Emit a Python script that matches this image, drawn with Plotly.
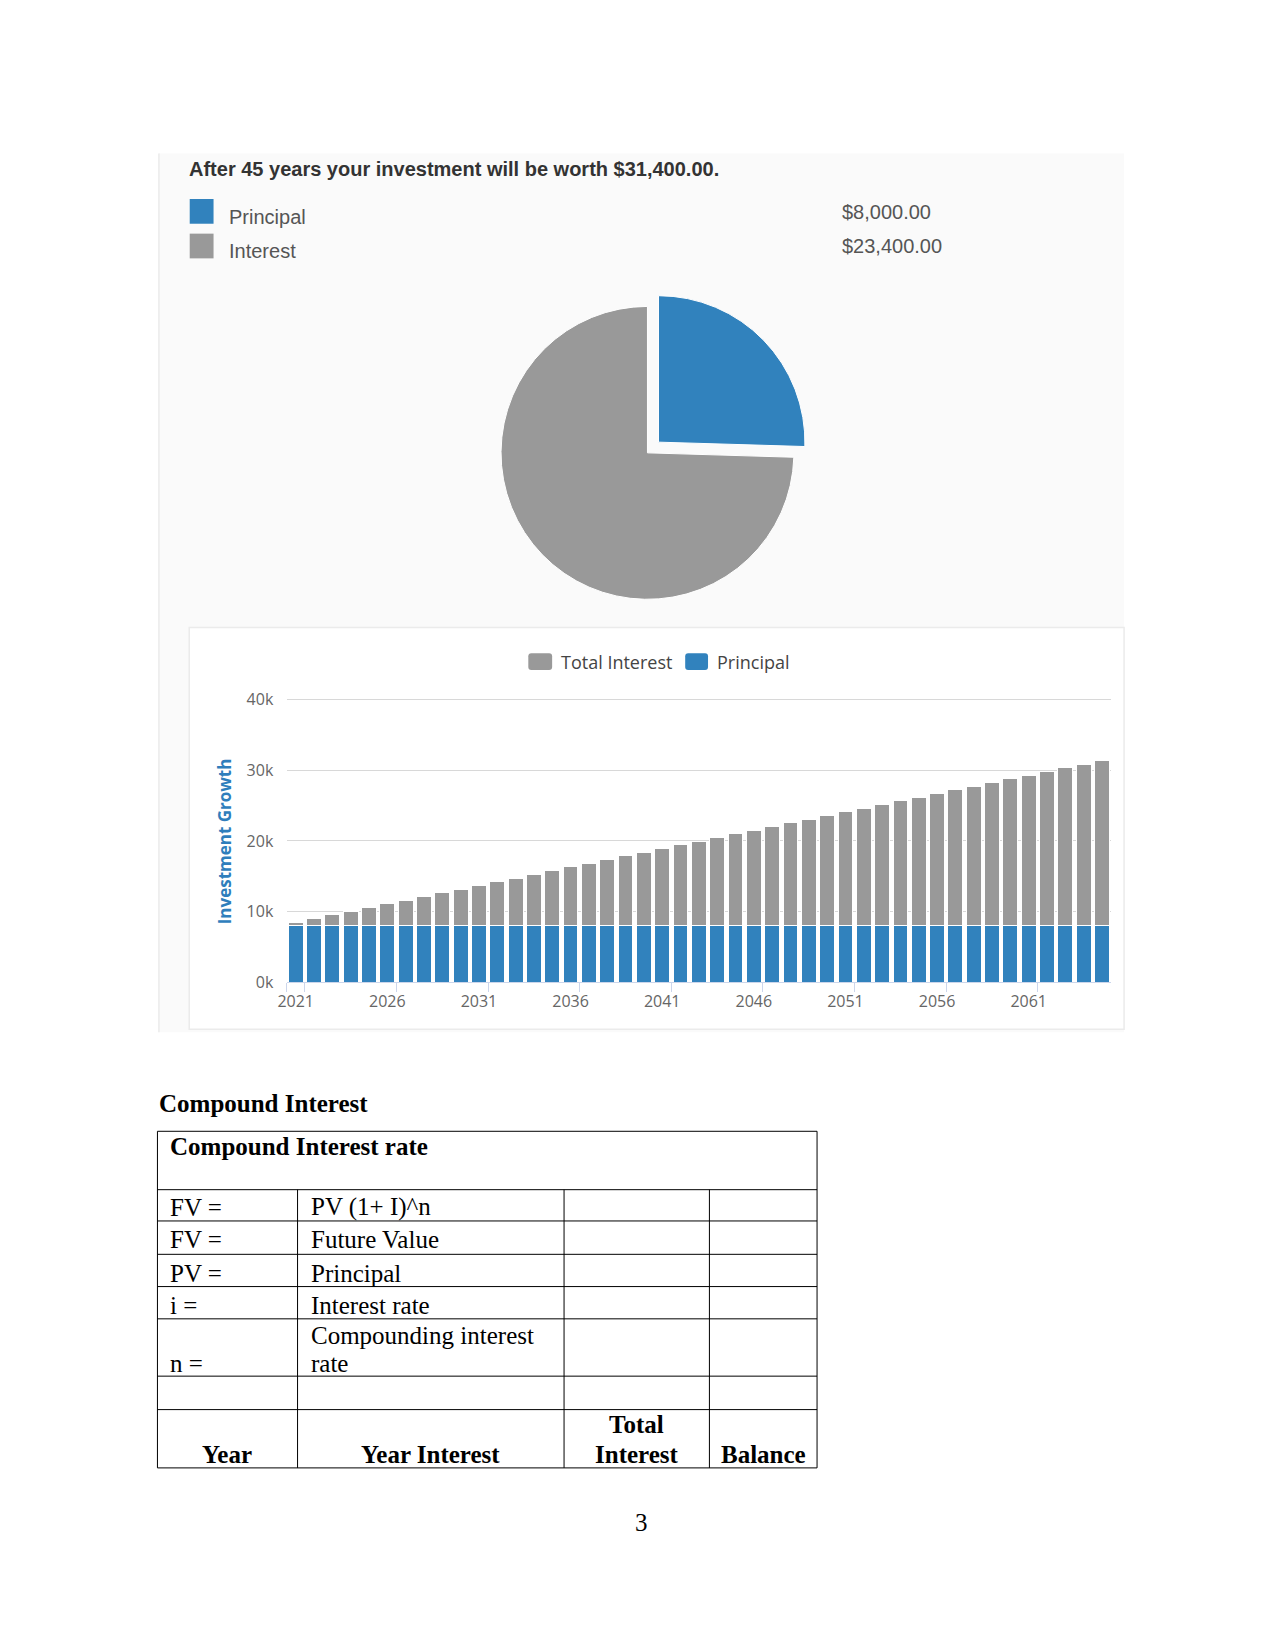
import plotly.graph_objects as go

W, H = 1275, 1651


def X(px):
    return px / W


def Y(py):
    return 1 - py / H


# ---------------- data ----------------
years = [2021, 2022, 2023, 2024, 2025, 2026, 2027, 2028, 2029, 2030,
         2031, 2032, 2033, 2034, 2035, 2036, 2037, 2038, 2039, 2040,
         2041, 2042, 2043, 2044, 2045, 2046, 2047, 2048, 2049, 2050,
         2051, 2052, 2053, 2054, 2055, 2056, 2057, 2058, 2059, 2060,
         2061, 2062, 2063, 2064, 2065]
principal = [8000, 8000, 8000, 8000, 8000, 8000, 8000, 8000, 8000, 8000,
             8000, 8000, 8000, 8000, 8000, 8000, 8000, 8000, 8000, 8000,
             8000, 8000, 8000, 8000, 8000, 8000, 8000, 8000, 8000, 8000,
             8000, 8000, 8000, 8000, 8000, 8000, 8000, 8000, 8000, 8000,
             8000, 8000, 8000, 8000, 8000]
total_interest = [520, 1040, 1560, 2080, 2600, 3120, 3640, 4160, 4680, 5200,
                  5720, 6240, 6760, 7280, 7800, 8320, 8840, 9360, 9880, 10400,
                  10920, 11440, 11960, 12480, 13000, 13520, 14040, 14560, 15080, 15600,
                  16120, 16640, 17160, 17680, 18200, 18720, 19240, 19760, 20280, 20800,
                  21320, 21840, 22360, 22880, 23400]
pie_labels = ["Principal", "Interest"]
pie_values = [8000, 23400]
pie_value_text = ["$8,000.00", "$23,400.00"]
y_tick_vals = [0, 10000, 20000, 30000, 40000]
y_tick_text = ["0k", "10k", "20k", "30k", "40k"]
x_tick_vals = [2021, 2026, 2031, 2036, 2041, 2046, 2051, 2056, 2061]
x_tick_text = ["2021", "2026", "2031", "2036", "2041", "2046", "2051", "2056", "2061"]
x_boundary_ticks = [2020.5, 2021.5, 2026.5, 2031.5, 2036.5, 2041.5, 2046.5, 2051.5, 2056.5, 2061.5]

headline = "After 45 years your investment will be worth $31,400.00."

table_rows = [
    ["FV =", "PV (1+ I)^n"],
    ["FV =", "Future Value"],
    ["PV =", "Principal"],
    ["i =", "Interest rate"],
]

BLUE = "#3182bd"
GRAY = "#999999"
CHART_FONT = "Open Sans"
SANS = "Liberation Sans"
SERIF = "Liberation Serif"

fig = go.Figure()

fig.add_trace(go.Bar(
    x=years, y=principal, name="Principal",
    marker=dict(color=BLUE, line=dict(color="white", width=1)),
    showlegend=False, xaxis="x", yaxis="y"))
fig.add_trace(go.Bar(
    x=years, y=total_interest, name="Total Interest",
    marker=dict(color=GRAY, line=dict(color="white", width=1)),
    showlegend=False, xaxis="x", yaxis="y"))

fig.add_trace(go.Pie(
    labels=pie_labels, values=pie_values, sort=False,
    direction="clockwise", rotation=0, pull=[0.105, 0],
    marker=dict(colors=[BLUE, GRAY], line=dict(color="white", width=1)),
    textinfo="none", showlegend=False,
    domain=dict(x=[X(479.5), X(806.5)], y=[Y(615), Y(288)])))

shapes = []
# chart image background
shapes.append(dict(type="rect", xref="paper", yref="paper", layer="below",
                   x0=X(151), x1=X(1123), y0=Y(1037), y1=Y(149),
                   fillcolor="#fafafa", line=dict(width=0)))
shapes.append(dict(type="line", xref="paper", yref="paper", layer="below",
                   x0=X(151), x1=X(151), y0=Y(1037), y1=Y(149),
                   line=dict(color="#e2e2e2", width=1)))
# bar chart box
shapes.append(dict(type="rect", xref="paper", yref="paper", layer="below",
                   x0=X(181.5), x1=X(1123), y0=Y(1034), y1=Y(628),
                   fillcolor="#ffffff", line=dict(color="#ebebeb", width=1.5)))
# top legend squares
shapes.append(dict(type="rect", xref="paper", yref="paper",
                   x0=X(182), x1=X(206), y0=Y(220), y1=Y(195),
                   fillcolor=BLUE, line=dict(width=0)))
shapes.append(dict(type="rect", xref="paper", yref="paper",
                   x0=X(182), x1=X(206), y0=Y(255), y1=Y(230),
                   fillcolor=GRAY, line=dict(width=0)))


def rrect(x0, y0, x1, y1, r):
    return (f"M {X(x0 + r)} {Y(y0)} L {X(x1 - r)} {Y(y0)} Q {X(x1)} {Y(y0)} {X(x1)} {Y(y0 + r)} "
            f"L {X(x1)} {Y(y1 - r)} Q {X(x1)} {Y(y1)} {X(x1 - r)} {Y(y1)} "
            f"L {X(x0 + r)} {Y(y1)} Q {X(x0)} {Y(y1)} {X(x0)} {Y(y1 - r)} "
            f"L {X(x0)} {Y(y0 + r)} Q {X(x0)} {Y(y0)} {X(x0 + r)} {Y(y0)} Z")


shapes.append(dict(type="path", xref="paper", yref="paper", path=rrect(523, 654, 547, 671, 3),
                   fillcolor=GRAY, line=dict(width=0)))
shapes.append(dict(type="path", xref="paper", yref="paper", path=rrect(681, 654, 704, 671, 3),
                   fillcolor=BLUE, line=dict(width=0)))

# table lines
col_x = [149.5, 290.6, 559.0, 705.4, 813.8]
row_y = [1137.0, 1196.0, 1227.6, 1261.3, 1293.9, 1326.5, 1384.4, 1418.2, 1477.1]
for yy in row_y:
    shapes.append(dict(type="line", xref="paper", yref="paper",
                       x0=X(col_x[0]), x1=X(col_x[-1]), y0=Y(yy), y1=Y(yy),
                       line=dict(color="black", width=1)))
for i, xx in enumerate(col_x):
    top = row_y[0] if i in (0, len(col_x) - 1) else row_y[1]
    shapes.append(dict(type="line", xref="paper", yref="paper",
                       x0=X(xx), x1=X(xx), y0=Y(row_y[-1]), y1=Y(top),
                       line=dict(color="black", width=1)))

ann = []


def text(x, y, s, size, family, color="black", xanchor="left", angle=0, weight=None):
    f = dict(size=size, family=family, color=color)
    if weight:
        f["weight"] = weight
    ann.append(dict(xref="paper", yref="paper", x=X(x), y=Y(y), text=s,
                    showarrow=False, xanchor=xanchor, yanchor="middle",
                    textangle=angle, borderpad=0, font=f))


# chart header
text(180, 165, f"<b>{headline}</b>", 20, SANS, "#333333")
text(221, 213, pie_labels[0], 20, SANS, "#555555")
text(221, 248, pie_labels[1], 20, SANS, "#555555")
text(838, 208, pie_value_text[0], 20, SANS, "#555555")
text(838, 243, pie_value_text[1], 20, SANS, "#555555")
# bar legend
text(555, 663, "Total Interest", 18, CHART_FONT, "#444444")
text(712, 663, "Principal", 18, CHART_FONT, "#444444")
# y-axis title
text(216.5, 844, "Investment Growth", 17, CHART_FONT, "#2f7ebc", xanchor="center", angle=-90, weight="bold")

# document text
text(150.5, 1108.6, "<b>Compound Interest</b>", 25, SERIF)
text(161, 1152.8, "<b>Compound Interest rate</b>", 25, SERIF)
row_text_y = [1213.9, 1246.5, 1280.2, 1312.8]
for (a, b), yy in zip(table_rows, row_text_y):
    text(161, yy, a, 25, SERIF)
    text(303, yy, b, 25, SERIF)
text(303, 1343.4, "Compounding interest", 25, SERIF)
text(303, 1371.8, "rate", 25, SERIF)
text(161, 1371.8, "n =", 25, SERIF)
text(220, 1463.4, "<b>Year</b>", 25, SERIF, xanchor="center")
text(424.8, 1463.4, "<b>Year Interest</b>", 25, SERIF, xanchor="center")
text(632.2, 1432.9, "<b>Total</b>", 25, SERIF, xanchor="center")
text(632.2, 1463.4, "<b>Interest</b>", 25, SERIF, xanchor="center")
text(759.6, 1463.4, "<b>Balance</b>", 25, SERIF, xanchor="center")
text(637, 1532, "3", 25, SERIF, xanchor="center")

# y range a little above 40k so the 40k gridline is drawn; domain keeps 40k at y=700.8
Y0, PX_PER_UNIT = 986.5, (986.5 - 700.8) / 40000
Y_MAX = 40700
y_top_px = Y0 - Y_MAX * PX_PER_UNIT

fig.update_layout(
    width=W, height=H,
    margin=dict(l=0, r=0, t=0, b=0),
    paper_bgcolor="white", plot_bgcolor="rgba(0,0,0,0)",
    barmode="stack", bargap=0.19,
    showlegend=False,
    shapes=shapes, annotations=ann,
    xaxis=dict(domain=[X(279.5), X(1110)], range=[2020.5, 2065.5], anchor="y",
               tickmode="array", tickvals=x_tick_vals, ticktext=x_tick_text,
               ticks="outside", ticklen=4, tickcolor="rgba(0,0,0,0)",
               tickfont=dict(family=CHART_FONT, size=16, color="#666666"),
               showgrid=False, zeroline=False, showline=True, linecolor="#ccd6eb", linewidth=1,
               minor=dict(tickmode="array", tickvals=x_boundary_ticks, ticks="outside",
                          ticklen=9, tickcolor="#ccd6eb", tickwidth=1, showgrid=False),
               fixedrange=True),
    yaxis=dict(domain=[Y(Y0), Y(y_top_px)], range=[0, Y_MAX], autorange=False, anchor="x",
               tickmode="array", tickvals=y_tick_vals, ticktext=y_tick_text,
               ticks="outside", ticklen=9, tickcolor="rgba(0,0,0,0)",
               tickfont=dict(family=CHART_FONT, size=16, color="#666666"),
               showgrid=True, gridcolor="#d8d8d8", gridwidth=1,
               zeroline=False, showline=False, fixedrange=True),
)

fig.write_html("out.html")
